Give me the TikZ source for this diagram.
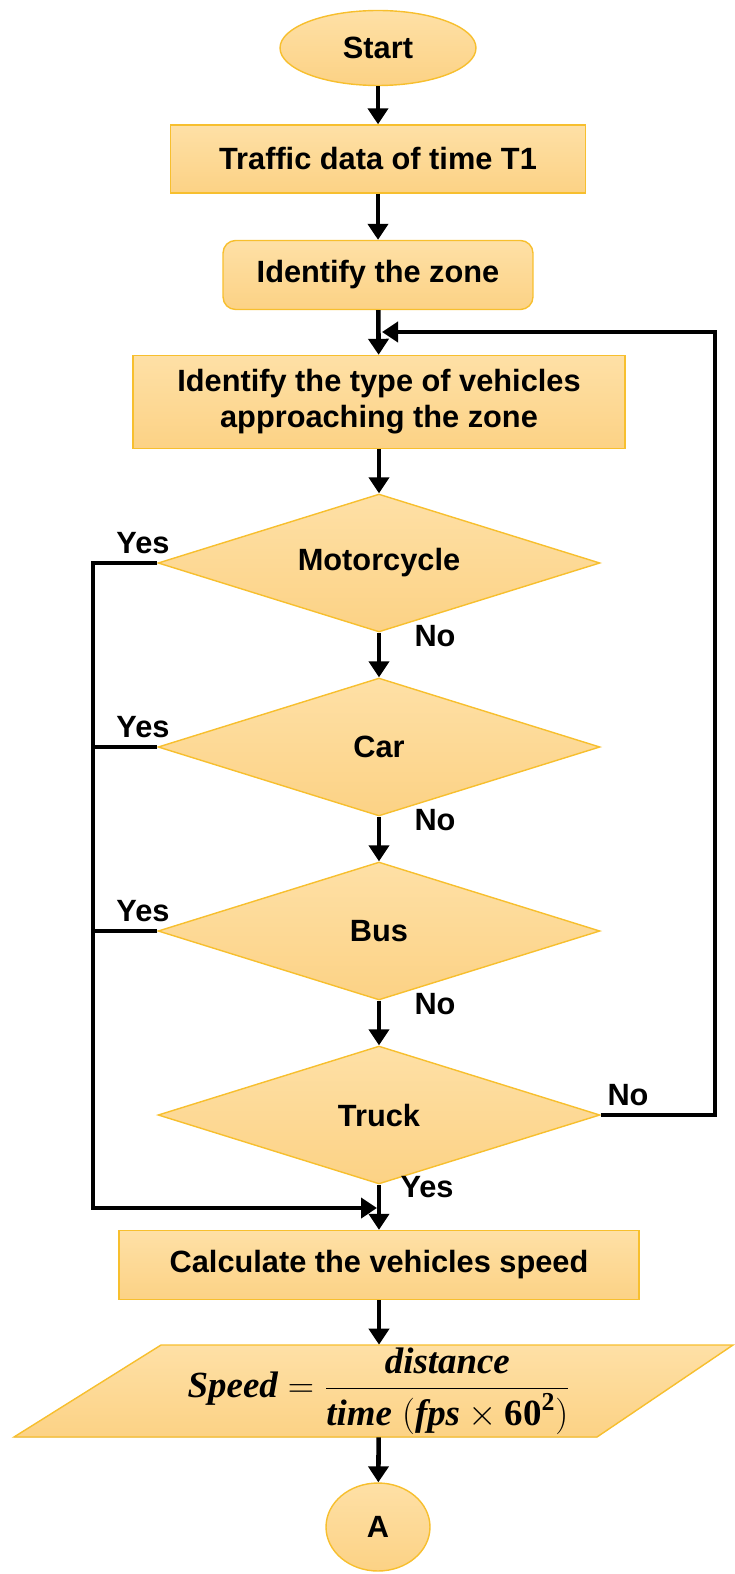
\documentclass[tikz,border=0pt]{standalone}
\usepackage{amsmath}
\usepackage[no-math]{fontspec}
\setmainfont{Liberation Sans}
\newfontfamily\formulafont{Liberation Serif}
\usetikzlibrary{shapes.geometric,arrows.meta}

\definecolor{boxtop}{HTML}{FEE0A6}
\definecolor{boxbot}{HTML}{FCD285}
\definecolor{boxline}{HTML}{F7BF2E}

\newcommand{\fv}[1]{\text{\formulafont\bfseries\itshape #1}}
\newcommand{\fn}[1]{\text{\formulafont\bfseries #1}}

\tikzset{
  box/.style={draw=boxline, line width=0.8pt, top color=boxtop, bottom color=boxbot,
    font=\fontsize{17.5}{20.5}\selectfont\bfseries, align=center, inner sep=0pt},
  process/.style={box, rectangle},
  decision/.style={box, diamond, aspect=3.2, minimum width=8.84cm, minimum height=2.76cm},
  conn/.style={line width=2.6pt, -{Triangle[length=0.32cm,width=0.4cm]}},
  link/.style={line width=2.6pt},
  lbl/.style={font=\fontsize{17.5}{20}\selectfont\bfseries, inner sep=0pt},
  formula/.style={font=\fontsize{21}{25}\selectfont, align=center, inner sep=0pt}
}

\begin{document}
\begin{tikzpicture}[x=0.02cm, y=-0.02cm]
\useasboundingbox (0,0) rectangle (734,1574);

\node[box, ellipse, minimum width=3.92cm, minimum height=1.5cm] (start) at (378,48) {Start};
\node[process, minimum width=8.3cm, minimum height=1.36cm] (traffic) at (378,159) {Traffic data of time T1};
\node[process, rounded corners=0.25cm, minimum width=6.2cm, minimum height=1.38cm] (zone) at (378,275) {Identify the zone};
\node[process, minimum width=9.84cm, minimum height=1.86cm] (type) at (379,402) {Identify the type of vehicles\\approaching the zone};
\foreach \n/\txt/\y in {moto/Motorcycle/563, car/Car/747, bus/Bus/931, truck/Truck/1115}
    \node[decision] (\n) at (379,\y) {\txt};
\node[process, minimum width=10.4cm, minimum height=1.38cm] (calc) at (379,1265) {Calculate the vehicles speed};
\fill[draw=boxline, line width=0.8pt, top color=boxtop, bottom color=boxbot]
    (161,1345) -- (733,1345) -- (597,1437) -- (14,1437) -- cycle;
\node[formula, minimum height=1.84cm] (speed) at (379,1391) {$\fv{Speed}=\dfrac{\fv{distance}}{\fv{time}\;(\fv{fps}\times\fn{60}^{\fn{2}})}$};
\node[box, ellipse, minimum width=2.08cm, minimum height=1.76cm] (A) at (378,1527) {A};

\coordinate (loopcorner) at (715,332);
\coordinate (loopin) at (382,332);
\coordinate (yescorner) at (93,1208);
\coordinate (joinin) at (377,1208);

\draw[conn] (start) -- (traffic);
\draw[conn] (traffic) -- (zone);
\draw[conn] (zone) -- (type);
\draw[conn] (type) -- (moto);
\draw[conn] (moto) -- (car);
\draw[conn] (car) -- (bus);
\draw[conn] (bus) -- (truck);
\draw[conn] (truck) -- (calc);
\draw[conn] (calc) -- (speed);
\draw[conn] (speed) -- (A);
\draw[conn] (truck.east) -| (loopcorner) -- (loopin);
\draw[conn] (moto.west) -| (yescorner) -- (joinin);
\draw[link] (car.west) -- (car.west -| yescorner);
\draw[link] (bus.west) -- (bus.west -| yescorner);

\foreach \n/\y in {moto/563, car/747, bus/931} {
    \node[lbl] (\n-yes) at (143,\y-20) {Yes};
    \node[lbl] (\n-no) at (435,\y+73) {No};
}
\node[lbl] (truck-no) at (628,1095) {No};
\node[lbl] (truck-yes) at (427,1187) {Yes};
\end{tikzpicture}
\end{document}
